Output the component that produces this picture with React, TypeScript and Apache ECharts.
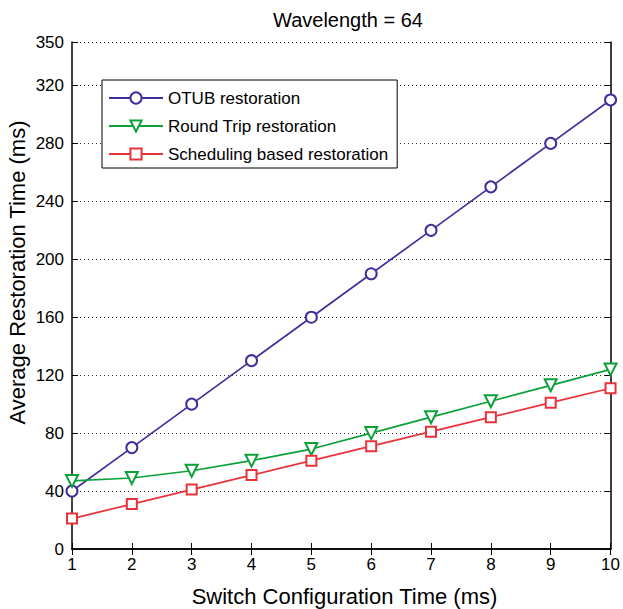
import React, { useEffect, useRef } from "react";
import * as echarts from "echarts";

const switchTimes = [1, 2, 3, 4, 5, 6, 7, 8, 9, 10];
const otub = [40, 70, 100, 130, 160, 190, 220, 250, 280, 310];
const roundTrip = [47, 49, 54, 61, 69, 80, 91, 102, 113, 124];
const scheduling = [21, 31, 41, 51, 61, 71, 81, 91, 101, 111];
const seriesNames = ["OTUB restoration", "Round Trip restoration", "Scheduling based restoration"];
const titleText = "Wavelength = 64";
const xLabel = "Switch Configuration Time (ms)";
const yLabel = "Average Restoration Time (ms)";

const FONT = "'Liberation Sans', Arial, sans-serif";

export default function App() {
  const ref = useRef<HTMLDivElement>(null);
  useEffect(() => {
    if (!ref.current) return;
    const chart = echarts.init(ref.current, null, { renderer: "svg" });
    const pair = (ys: number[]) => switchTimes.map((x, i) => [x, ys[i]]);
    const axisLine = { show: true, lineStyle: { color: "#000", width: 1.5 } };
    const tick = { show: true, inside: true, length: 6, lineStyle: { color: "#000", width: 1 } };
    chart.setOption({
      animation: false,
      backgroundColor: "#fff",
      textStyle: { fontFamily: FONT },
      grid: { left: 72, right: 6, top: 42, bottom: 60, containLabel: false },
      legend: {
        orient: "vertical",
        left: 102,
        top: 80,
        data: seriesNames,
        itemWidth: 54,
        itemHeight: 14,
        itemGap: 8,
        padding: [8, 9, 4, 6],
        backgroundColor: "#fff",
        borderColor: "#000",
        borderWidth: 1,
        borderRadius: 0,
        textStyle: { fontSize: 17, color: "#000", fontFamily: FONT, lineHeight: 20 },
      },
      xAxis: [
        {
          type: "value",
          min: 1,
          max: 10,
          interval: 1,
          axisLine,
          axisTick: tick,
          splitLine: { show: false },
          axisLabel: { fontSize: 17, color: "#000", margin: 7, fontFamily: FONT },
        },
        {
          type: "value",
          position: "top",
          min: 1,
          max: 10,
          interval: 1,
          axisLine,
          axisTick: tick,
          splitLine: { show: false },
          axisLabel: { show: false },
        },
      ],
      yAxis: [
        {
          type: "value",
          min: 0,
          max: 350,
          interval: 40,
          axisLine,
          axisTick: tick,
          splitLine: { show: true, lineStyle: { color: "#333", width: 1, type: [1, 3] } },
          axisLabel: { fontSize: 17, color: "#000", margin: 8, fontFamily: FONT },
        },
        {
          type: "value",
          position: "right",
          min: 0,
          max: 350,
          interval: 40,
          axisLine,
          axisTick: tick,
          splitLine: { show: false },
          axisLabel: { show: false },
        },
      ],
      graphic: [
        {
          type: "text",
          x: 348,
          y: 20,
          style: { text: titleText, fontSize: 20, fill: "#000", fontFamily: FONT, textAlign: "center", textVerticalAlign: "middle" },
        },
        {
          type: "text",
          x: 344.5,
          y: 596,
          style: { text: xLabel, fontSize: 22, fill: "#000", fontFamily: FONT, textAlign: "center", textVerticalAlign: "middle" },
        },
        {
          type: "text",
          x: 17,
          y: 272.5,
          rotation: Math.PI / 2,
          style: { text: yLabel, fontSize: 22, fill: "#000", fontFamily: FONT, textAlign: "center", textVerticalAlign: "middle" },
        },
      ],
      series: [
        {
          name: seriesNames[0],
          type: "line",
          data: pair(otub),
          symbol: "emptyCircle",
          symbolSize: 11,
          color: "#41309A",
          lineStyle: { width: 1.7 },
          itemStyle: { borderWidth: 1.5 },
        },
        {
          name: seriesNames[1],
          type: "line",
          data: pair(roundTrip),
          symbol: "emptyTriangle",
          symbolRotate: 180,
          symbolSize: 12,
          color: "#0C9F3A",
          lineStyle: { width: 1.7 },
          itemStyle: { borderWidth: 1.5 },
        },
        {
          name: seriesNames[2],
          type: "line",
          data: pair(scheduling),
          symbol: "emptyRect",
          symbolSize: 10,
          color: "#E8333A",
          lineStyle: { width: 1.7 },
          itemStyle: { borderWidth: 1.5 },
        },
      ],
    });
    return () => chart.dispose();
  }, []);
  return <div ref={ref} style={{ position: "absolute", left: 0, top: 0, width: 623, height: 609 }} />;
}
